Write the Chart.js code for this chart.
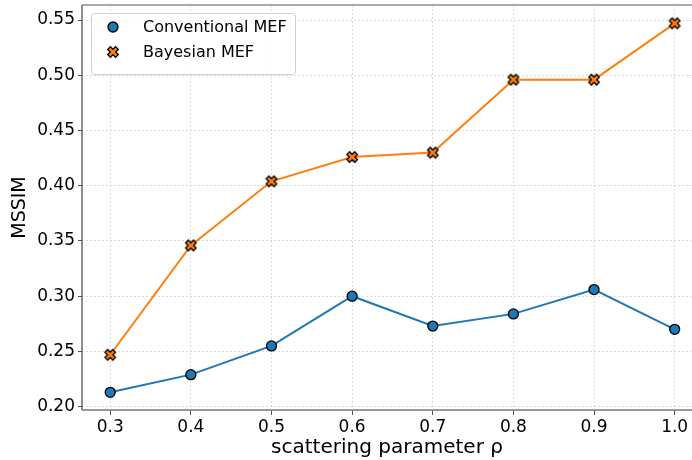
<!DOCTYPE html>
<html lang="en">
<head>
  <meta charset="UTF-8">
  <title>MSSIM vs scattering parameter</title>
  <script src="https://cdn.jsdelivr.net/npm/chart.js"></script>
  <style>
    html, body { margin: 0; padding: 0; overflow: hidden; background: #fff; }
    canvas { display: block; }
  </style>
</head>
<body>
  <canvas id="myChart" width="692" height="460"></canvas>
  <script>
    // values
    const rho = [0.3, 0.4, 0.5, 0.6, 0.7, 0.8, 0.9, 1.0];
    const conventional = [0.213, 0.229, 0.255, 0.300, 0.273, 0.284, 0.306, 0.270];
    const bayesian = [0.247, 0.346, 0.404, 0.426, 0.430, 0.496, 0.496, 0.547];
    const xTicks = [0.3, 0.4, 0.5, 0.6, 0.7, 0.8, 0.9, 1.0];
    const yTicks = [0.20, 0.25, 0.30, 0.35, 0.40, 0.45, 0.50, 0.55];

    const FONT = "'DejaVu Sans', sans-serif";

    // filled "X" marker like matplotlib's 'X'
    function makeX(fill) {
      const c = document.createElement('canvas');
      c.width = 14; c.height = 14;
      const g = c.getContext('2d');
      const r = 5.6, t = 1.9;
      g.translate(7, 7);
      g.rotate(Math.PI / 4);
      g.beginPath();
      const pts = [[-t,-r],[t,-r],[t,-t],[r,-t],[r,t],[t,t],[t,r],[-t,r],[-t,t],[-r,t],[-r,-t],[-t,-t]];
      pts.forEach((p, i) => i ? g.lineTo(p[0], p[1]) : g.moveTo(p[0], p[1]));
      g.closePath();
      g.fillStyle = fill;
      g.fill();
      g.lineWidth = 1.3;
      g.strokeStyle = '#000';
      g.stroke();
      return c;
    }
    const xMarker = makeX('#ff7f0e');

    const toXY = (ys) => rho.map((x, i) => ({ x: x, y: ys[i] }));

    // only draw grid lines at the listed ticks
    const gridAt = (list) => (c) =>
      c.tick && list.some(v => Math.abs(v - c.tick.value) < 1e-9) ? '#d4d4d4' : 'rgba(0,0,0,0)';

    // spines + legend drawn inside the plot, top-left
    const innerLegend = {
      id: 'innerLegend',
      beforeDatasetsDraw(chart) {
        const ctx = chart.ctx;
        const a = chart.chartArea;
        ctx.save();
        ctx.lineWidth = 2;
        ctx.strokeStyle = '#aaaaaa';
        ctx.beginPath();
        ctx.moveTo(a.left, a.top);
        ctx.lineTo(a.right, a.top);
        ctx.stroke();
        ctx.strokeStyle = '#777';
        ctx.lineWidth = 1.5;
        ctx.beginPath();
        ctx.moveTo(a.left, a.bottom);
        ctx.lineTo(a.right, a.bottom);
        ctx.stroke();
        ctx.strokeStyle = '#444';
        ctx.lineWidth = 1.2;
        ctx.beginPath();
        ctx.moveTo(a.left, a.top);
        ctx.lineTo(a.left, a.bottom);
        ctx.stroke();
        ctx.restore();
      },
      afterDraw(chart) {
        const ctx = chart.ctx;
        ctx.save();
        const bx = 91.5, by = 13.5, bw = 204, bh = 61;
        ctx.fillStyle = 'rgba(255,255,255,0.85)';
        ctx.strokeStyle = '#d0d0d0';
        ctx.lineWidth = 1;
        ctx.beginPath();
        ctx.roundRect(bx, by, bw, bh, 3);
        ctx.fill();
        ctx.stroke();

        ctx.font = '16px ' + FONT;
        ctx.textBaseline = 'middle';
        chart.data.datasets.forEach((ds, i) => {
          const y = 27 + i * 25;
          if (ds.pointStyle === 'circle') {
            ctx.beginPath();
            ctx.arc(113, y, 5, 0, Math.PI * 2);
            ctx.fillStyle = ds.pointBackgroundColor;
            ctx.fill();
            ctx.lineWidth = 1.3;
            ctx.strokeStyle = '#000';
            ctx.stroke();
          } else {
            ctx.drawImage(ds.pointStyle, 113 - 7, y - 7);
          }
          ctx.fillStyle = '#000';
          ctx.fillText(ds.label, 143, y + 1);
        });
        ctx.restore();
      }
    };

    const ctx = document.getElementById('myChart').getContext('2d');
    const myChart = new Chart(ctx, {
      type: 'scatter',
      data: {
        datasets: [{
          label: 'Conventional MEF',
          data: toXY(conventional),
          showLine: true,
          borderColor: '#1f77b4',
          borderWidth: 2,
          pointStyle: 'circle',
          pointRadius: 5,
          pointHoverRadius: 5,
          pointBackgroundColor: '#1f77b4',
          pointBorderColor: '#000',
          pointBorderWidth: 1.3
        }, {
          label: 'Bayesian MEF',
          data: toXY(bayesian),
          showLine: true,
          borderColor: '#ff7f0e',
          borderWidth: 2,
          pointStyle: xMarker,
          pointRadius: 6,
          pointHoverRadius: 6,
          pointBackgroundColor: '#ff7f0e',
          pointBorderColor: '#000'
        }]
      },
      options: {
        responsive: false,
        animation: false,
        layout: { autoPadding: false, padding: { top: 5, right: 0, left: 0, bottom: 0 } },
        plugins: {
          legend: { display: false },
          tooltip: { enabled: false }
        },
        scales: {
          x: {
            type: 'linear',
            min: 0.265,
            max: 1.0215,
            afterBuildTicks(scale) { scale.ticks = xTicks.map(v => ({ value: v })); },
            afterFit(scale) {
              scale.height = 50;
              scale.paddingLeft = 0; scale.paddingRight = 0;
            },
            grid: {
              color: gridAt(xTicks),
              lineWidth: 0.8,
              tickColor: '#555',
              tickLength: 5,
              tickWidth: 1,
              tickBorderDash: []
            },
            border: { display: false, dash: [2, 2] },
            ticks: {
              color: '#000',
              font: { family: FONT, size: 17 },
              padding: 2,
              maxRotation: 0,
              callback: (v) => v.toFixed(1)
            },
            title: {
              display: true,
              text: 'scattering parameter ρ',
              color: '#000',
              font: { family: FONT, size: 20 },
              padding: { top: 0, bottom: 0 }
            }
          },
          y: {
            min: 0.197,
            max: 0.5636,
            afterBuildTicks(scale) { scale.ticks = yTicks.map(v => ({ value: v })); },
            afterFit(scale) {
              scale.width = 82;
              scale.paddingTop = 0; scale.paddingBottom = 0;
            },
            grid: {
              color: gridAt(yTicks),
              lineWidth: 0.8,
              tickColor: '#555',
              tickLength: 4,
              tickWidth: 1,
              tickBorderDash: []
            },
            border: { display: false, dash: [2, 2] },
            ticks: {
              color: '#000',
              font: { family: FONT, size: 17 },
              padding: 3,
              callback: (v) => v.toFixed(2)
            },
            title: {
              display: true,
              text: 'MSSIM',
              color: '#000',
              font: { family: FONT, size: 19 },
              padding: { top: 9, bottom: 0 }
            }
          }
        }
      },
      plugins: [innerLegend]
    });
  </script>
</body>
</html>
